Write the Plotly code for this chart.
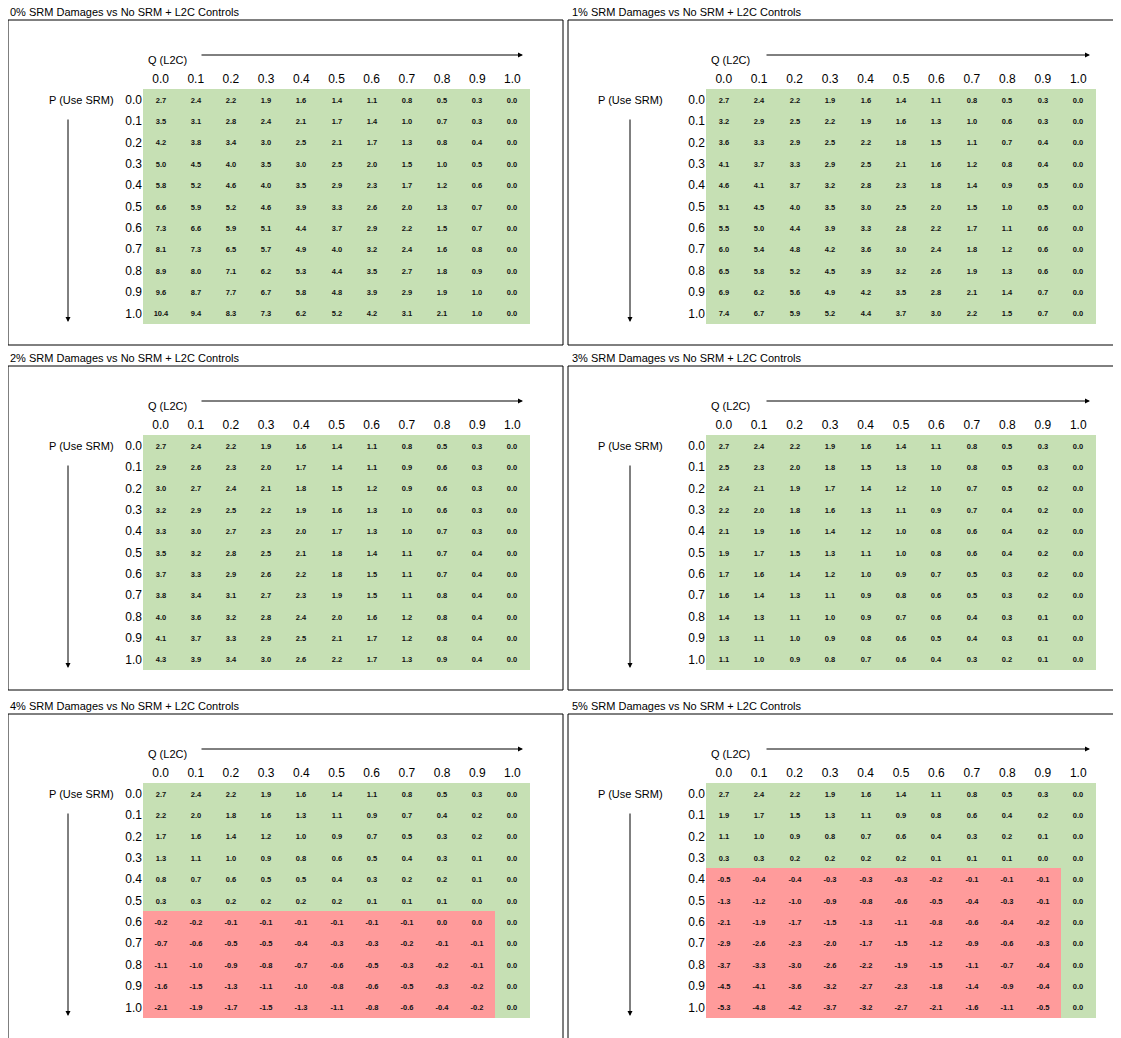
import plotly.graph_objects as go

# page body margin of the html page shifts everything by 8px
OFF = 8
W, H = 1121 - OFF, 1038 - OFF

q_vals = [0.0, 0.1, 0.2, 0.3, 0.4, 0.5, 0.6, 0.7, 0.8, 0.9, 1.0]
p_vals = [0.0, 0.1, 0.2, 0.3, 0.4, 0.5, 0.6, 0.7, 0.8, 0.9, 1.0]
tick_text = ["0.0", "0.1", "0.2", "0.3", "0.4", "0.5", "0.6", "0.7", "0.8", "0.9", "1.0"]

titles = [
    "0% SRM Damages vs No SRM + L2C Controls",
    "1% SRM Damages vs No SRM + L2C Controls",
    "2% SRM Damages vs No SRM + L2C Controls",
    "3% SRM Damages vs No SRM + L2C Controls",
    "4% SRM Damages vs No SRM + L2C Controls",
    "5% SRM Damages vs No SRM + L2C Controls",
]

# rows = P (Use SRM), columns = Q (L2C)
srm0 = [
    [2.7, 2.4, 2.2, 1.9, 1.6, 1.4, 1.1, 0.8, 0.5, 0.3, 0.0],
    [3.5, 3.1, 2.8, 2.4, 2.1, 1.7, 1.4, 1.0, 0.7, 0.3, 0.0],
    [4.2, 3.8, 3.4, 3.0, 2.5, 2.1, 1.7, 1.3, 0.8, 0.4, 0.0],
    [5.0, 4.5, 4.0, 3.5, 3.0, 2.5, 2.0, 1.5, 1.0, 0.5, 0.0],
    [5.8, 5.2, 4.6, 4.0, 3.5, 2.9, 2.3, 1.7, 1.2, 0.6, 0.0],
    [6.6, 5.9, 5.2, 4.6, 3.9, 3.3, 2.6, 2.0, 1.3, 0.7, 0.0],
    [7.3, 6.6, 5.9, 5.1, 4.4, 3.7, 2.9, 2.2, 1.5, 0.7, 0.0],
    [8.1, 7.3, 6.5, 5.7, 4.9, 4.0, 3.2, 2.4, 1.6, 0.8, 0.0],
    [8.9, 8.0, 7.1, 6.2, 5.3, 4.4, 3.5, 2.7, 1.8, 0.9, 0.0],
    [9.6, 8.7, 7.7, 6.7, 5.8, 4.8, 3.9, 2.9, 1.9, 1.0, 0.0],
    [10.4, 9.4, 8.3, 7.3, 6.2, 5.2, 4.2, 3.1, 2.1, 1.0, 0.0],
]
srm1 = [
    [2.7, 2.4, 2.2, 1.9, 1.6, 1.4, 1.1, 0.8, 0.5, 0.3, 0.0],
    [3.2, 2.9, 2.5, 2.2, 1.9, 1.6, 1.3, 1.0, 0.6, 0.3, 0.0],
    [3.6, 3.3, 2.9, 2.5, 2.2, 1.8, 1.5, 1.1, 0.7, 0.4, 0.0],
    [4.1, 3.7, 3.3, 2.9, 2.5, 2.1, 1.6, 1.2, 0.8, 0.4, 0.0],
    [4.6, 4.1, 3.7, 3.2, 2.8, 2.3, 1.8, 1.4, 0.9, 0.5, 0.0],
    [5.1, 4.5, 4.0, 3.5, 3.0, 2.5, 2.0, 1.5, 1.0, 0.5, 0.0],
    [5.5, 5.0, 4.4, 3.9, 3.3, 2.8, 2.2, 1.7, 1.1, 0.6, 0.0],
    [6.0, 5.4, 4.8, 4.2, 3.6, 3.0, 2.4, 1.8, 1.2, 0.6, 0.0],
    [6.5, 5.8, 5.2, 4.5, 3.9, 3.2, 2.6, 1.9, 1.3, 0.6, 0.0],
    [6.9, 6.2, 5.6, 4.9, 4.2, 3.5, 2.8, 2.1, 1.4, 0.7, 0.0],
    [7.4, 6.7, 5.9, 5.2, 4.4, 3.7, 3.0, 2.2, 1.5, 0.7, 0.0],
]
srm2 = [
    [2.7, 2.4, 2.2, 1.9, 1.6, 1.4, 1.1, 0.8, 0.5, 0.3, 0.0],
    [2.9, 2.6, 2.3, 2.0, 1.7, 1.4, 1.1, 0.9, 0.6, 0.3, 0.0],
    [3.0, 2.7, 2.4, 2.1, 1.8, 1.5, 1.2, 0.9, 0.6, 0.3, 0.0],
    [3.2, 2.9, 2.5, 2.2, 1.9, 1.6, 1.3, 1.0, 0.6, 0.3, 0.0],
    [3.3, 3.0, 2.7, 2.3, 2.0, 1.7, 1.3, 1.0, 0.7, 0.3, 0.0],
    [3.5, 3.2, 2.8, 2.5, 2.1, 1.8, 1.4, 1.1, 0.7, 0.4, 0.0],
    [3.7, 3.3, 2.9, 2.6, 2.2, 1.8, 1.5, 1.1, 0.7, 0.4, 0.0],
    [3.8, 3.4, 3.1, 2.7, 2.3, 1.9, 1.5, 1.1, 0.8, 0.4, 0.0],
    [4.0, 3.6, 3.2, 2.8, 2.4, 2.0, 1.6, 1.2, 0.8, 0.4, 0.0],
    [4.1, 3.7, 3.3, 2.9, 2.5, 2.1, 1.7, 1.2, 0.8, 0.4, 0.0],
    [4.3, 3.9, 3.4, 3.0, 2.6, 2.2, 1.7, 1.3, 0.9, 0.4, 0.0],
]
srm3 = [
    [2.7, 2.4, 2.2, 1.9, 1.6, 1.4, 1.1, 0.8, 0.5, 0.3, 0.0],
    [2.5, 2.3, 2.0, 1.8, 1.5, 1.3, 1.0, 0.8, 0.5, 0.3, 0.0],
    [2.4, 2.1, 1.9, 1.7, 1.4, 1.2, 1.0, 0.7, 0.5, 0.2, 0.0],
    [2.2, 2.0, 1.8, 1.6, 1.3, 1.1, 0.9, 0.7, 0.4, 0.2, 0.0],
    [2.1, 1.9, 1.6, 1.4, 1.2, 1.0, 0.8, 0.6, 0.4, 0.2, 0.0],
    [1.9, 1.7, 1.5, 1.3, 1.1, 1.0, 0.8, 0.6, 0.4, 0.2, 0.0],
    [1.7, 1.6, 1.4, 1.2, 1.0, 0.9, 0.7, 0.5, 0.3, 0.2, 0.0],
    [1.6, 1.4, 1.3, 1.1, 0.9, 0.8, 0.6, 0.5, 0.3, 0.2, 0.0],
    [1.4, 1.3, 1.1, 1.0, 0.9, 0.7, 0.6, 0.4, 0.3, 0.1, 0.0],
    [1.3, 1.1, 1.0, 0.9, 0.8, 0.6, 0.5, 0.4, 0.3, 0.1, 0.0],
    [1.1, 1.0, 0.9, 0.8, 0.7, 0.6, 0.4, 0.3, 0.2, 0.1, 0.0],
]
srm4 = [
    [2.7, 2.4, 2.2, 1.9, 1.6, 1.4, 1.1, 0.8, 0.5, 0.3, 0.0],
    [2.2, 2.0, 1.8, 1.6, 1.3, 1.1, 0.9, 0.7, 0.4, 0.2, 0.0],
    [1.7, 1.6, 1.4, 1.2, 1.0, 0.9, 0.7, 0.5, 0.3, 0.2, 0.0],
    [1.3, 1.1, 1.0, 0.9, 0.8, 0.6, 0.5, 0.4, 0.3, 0.1, 0.0],
    [0.8, 0.7, 0.6, 0.5, 0.5, 0.4, 0.3, 0.2, 0.2, 0.1, 0.0],
    [0.3, 0.3, 0.2, 0.2, 0.2, 0.2, 0.1, 0.1, 0.1, 0.0, 0.0],
    [-0.2, -0.2, -0.1, -0.1, -0.1, -0.1, -0.1, -0.1, 0.0, 0.0, 0.0],
    [-0.7, -0.6, -0.5, -0.5, -0.4, -0.3, -0.3, -0.2, -0.1, -0.1, 0.0],
    [-1.1, -1.0, -0.9, -0.8, -0.7, -0.6, -0.5, -0.3, -0.2, -0.1, 0.0],
    [-1.6, -1.5, -1.3, -1.1, -1.0, -0.8, -0.6, -0.5, -0.3, -0.2, 0.0],
    [-2.1, -1.9, -1.7, -1.5, -1.3, -1.1, -0.8, -0.6, -0.4, -0.2, 0.0],
]
srm5 = [
    [2.7, 2.4, 2.2, 1.9, 1.6, 1.4, 1.1, 0.8, 0.5, 0.3, 0.0],
    [1.9, 1.7, 1.5, 1.3, 1.1, 0.9, 0.8, 0.6, 0.4, 0.2, 0.0],
    [1.1, 1.0, 0.9, 0.8, 0.7, 0.6, 0.4, 0.3, 0.2, 0.1, 0.0],
    [0.3, 0.3, 0.2, 0.2, 0.2, 0.2, 0.1, 0.1, 0.1, 0.0, 0.0],
    [-0.5, -0.4, -0.4, -0.3, -0.3, -0.3, -0.2, -0.1, -0.1, -0.1, 0.0],
    [-1.3, -1.2, -1.0, -0.9, -0.8, -0.6, -0.5, -0.4, -0.3, -0.1, 0.0],
    [-2.1, -1.9, -1.7, -1.5, -1.3, -1.1, -0.8, -0.6, -0.4, -0.2, 0.0],
    [-2.9, -2.6, -2.3, -2.0, -1.7, -1.5, -1.2, -0.9, -0.6, -0.3, 0.0],
    [-3.7, -3.3, -3.0, -2.6, -2.2, -1.9, -1.5, -1.1, -0.7, -0.4, 0.0],
    [-4.5, -4.1, -3.6, -3.2, -2.7, -2.3, -1.8, -1.4, -0.9, -0.4, 0.0],
    [-5.3, -4.8, -4.2, -3.7, -3.2, -2.7, -2.1, -1.6, -1.1, -0.5, 0.0],
]
tables = [srm0, srm1, srm2, srm3, srm4, srm5]
# first P row of the red (negative) block, columns Q 0.0 - 0.9
neg_from_row = [None, None, None, None, 6, 4]

GREEN = "#C6E0B4"
RED = "#FF9B9B"
FONT = "Liberation Sans, Arial, sans-serif"

# pixel layout (screen coords) of the two panel columns and three panel rows
cols = [
    dict(gx=143, gw=387, box_l=8, box_r=563, title_x=8, plab_x=81, varrow_x=68, harrow=(200, 523)),
    dict(gx=706, gw=390, box_l=568, box_r=1121, title_x=570, plab_x=630, varrow_x=630, harrow=(765, 1090)),
]
rows = [dict(gy=89, box_b=345), dict(gy=435, box_b=690), dict(gy=783, box_b=1045)]
GH = 235


def px(x):
    return (x - OFF) / W


def py(y):
    return 1 - (y - OFF) / H


fig = go.Figure()
annotations = []
shapes = []

for i, tbl in enumerate(tables):
    c = cols[i % 2]
    r = rows[i // 2]
    gx, gy = c["gx"], r["gy"]
    n = i + 1
    xa = "x" if n == 1 else f"x{n}"
    ya = "y" if n == 1 else f"y{n}"

    nr = neg_from_row[i]
    flags = [[1 if (nr is not None and ri >= nr and ci < 10) else 0
              for ci in range(len(q_vals))] for ri in range(len(p_vals))]
    text = [[f"{v:.1f}" for v in row] for row in tbl]

    fig.add_trace(go.Heatmap(
        z=flags, x=q_vals, y=p_vals, text=text,
        texttemplate="<b>%{text}</b>",
        textfont=dict(size=7.5, color="#111111", family=FONT),
        colorscale=[[0, GREEN], [0.5, GREEN], [0.5, RED], [1, RED]],
        zmin=0, zmax=1, showscale=False, hoverinfo="skip",
        xaxis=xa, yaxis=ya,
    ))

    fig.layout[("xaxis" if n == 1 else f"xaxis{n}")] = dict(
        domain=[px(gx), px(gx + c["gw"])], anchor=ya, side="top",
        tickvals=q_vals, ticktext=tick_text, ticks="", showgrid=False,
        zeroline=False, showline=False, fixedrange=True, ticklabelstandoff=3,
        tickfont=dict(size=12, color="black", family=FONT),
    )
    fig.layout[("yaxis" if n == 1 else f"yaxis{n}")] = dict(
        domain=[py(gy + GH), py(gy)], anchor=xa, autorange="reversed",
        tickvals=p_vals, ticktext=tick_text, ticks="", showgrid=False,
        zeroline=False, showline=False, fixedrange=True,
        tickfont=dict(size=12, color="black", family=FONT),
    )

    # panel frame and title
    shapes.append(dict(type="rect", xref="paper", yref="paper",
                       x0=px(c["box_l"]), x1=px(c["box_r"]),
                       y0=py(r["box_b"]), y1=py(gy - 69),
                       line=dict(color="black", width=1)))
    annotations.append(dict(text=titles[i], xref="paper", yref="paper",
                            x=px(c["title_x"]), y=py(gy - 77), xanchor="left",
                            yanchor="middle", showarrow=False,
                            font=dict(size=11, color="black", family=FONT)))
    # axis labels
    annotations.append(dict(text="Q (L2C)", xref="paper", yref="paper",
                            x=px(gx + 3), y=py(gy - 29), xanchor="left",
                            yanchor="middle", showarrow=False,
                            font=dict(size=11, color="black", family=FONT)))
    annotations.append(dict(text="P (Use SRM)", xref="paper", yref="paper",
                            x=px(c["plab_x"]), y=py(gy + 11), xanchor="center",
                            yanchor="middle", showarrow=False,
                            font=dict(size=11, color="black", family=FONT)))
    # arrows
    h0, h1 = c["harrow"]
    annotations.append(dict(text="", xref="paper", yref="paper",
                            x=px(h1), y=py(gy - 34), ax=h0 - h1, ay=0,
                            showarrow=True, arrowhead=2, arrowsize=1,
                            arrowwidth=1, arrowcolor="black", standoff=0))
    annotations.append(dict(text="", xref="paper", yref="paper",
                            x=px(c["varrow_x"]), y=py(gy + 233),
                            ax=0, ay=-(233 - 29),
                            showarrow=True, arrowhead=2, arrowsize=1,
                            arrowwidth=1, arrowcolor="black", standoff=0))

fig.update_layout(
    width=W, height=H,
    margin=dict(l=0, r=0, t=0, b=0),
    paper_bgcolor="white", plot_bgcolor="white",
    annotations=annotations, shapes=shapes,
    showlegend=False,
)

fig.write_html("out.html")
